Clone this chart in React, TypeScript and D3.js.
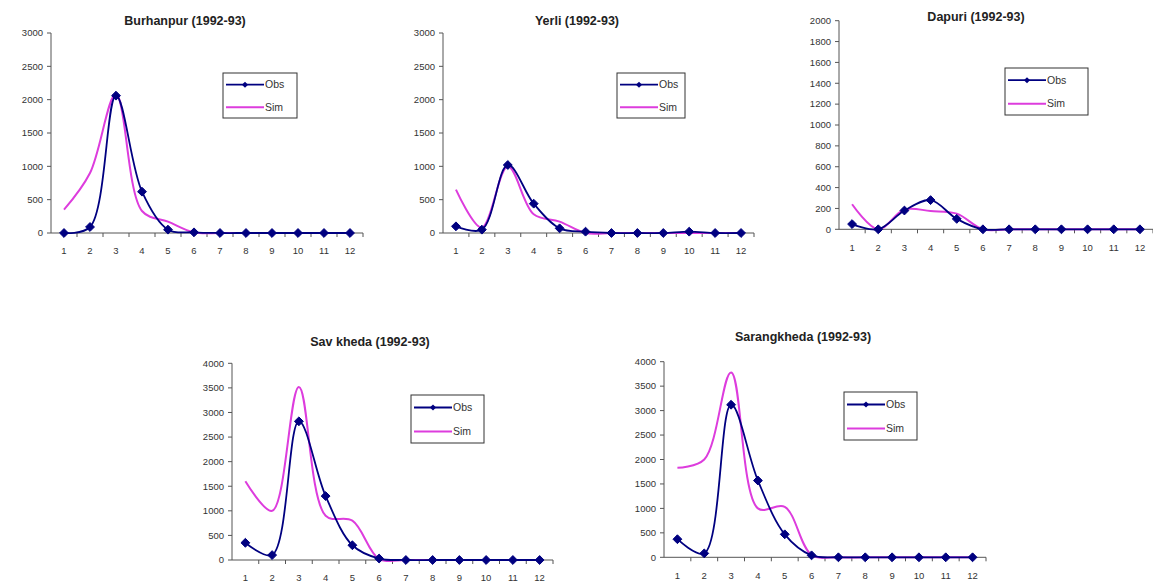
import React, { useEffect, useRef } from 'react';
import * as d3 from 'd3';

const months = ['1', '2', '3', '4', '5', '6', '7', '8', '9', '10', '11', '12'];
const seriesNames = ['Obs', 'Sim'];

const burhanpurObs = [0, 90, 2060, 620, 50, 10, 0, 0, 0, 0, 0, 0];
const burhanpurSim = [350, 900, 2080, 330, 170, 10, 0, 0, 0, 0, 0, 0];
const yerliObs = [100, 50, 1020, 440, 70, 20, 0, 0, 0, 20, 0, 0];
const yerliSim = [650, 80, 1000, 280, 170, 0, 0, 0, 0, 0, 0, 0];
const dapuriObs = [50, 0, 180, 280, 100, 0, 0, 0, 0, 0, 0, 0];
const dapuriSim = [240, 0, 190, 175, 150, 0, 0, 0, 0, 0, 0, 0];
const savkhedaObs = [350, 100, 2820, 1300, 300, 30, 0, 0, 0, 0, 0, 0];
const savkhedaSim = [1600, 1000, 3520, 900, 800, 20, 0, 0, 0, 0, 0, 0];
const sarangkhedaObs = [370, 80, 3120, 1570, 470, 40, 0, 0, 0, 0, 0, 0];
const sarangkhedaSim = [1830, 2000, 3780, 1000, 1030, 50, 0, 0, 0, 0, 0, 0];

const titles = ['Burhanpur (1992-93)', 'Yerli (1992-93)', 'Dapuri (1992-93)', 'Sav kheda (1992-93)', 'Sarangkheda (1992-93)'];

const panels = [
  { title: titles[0], obs: burhanpurObs, sim: burhanpurSim, yMax: 3000, yStep: 500, x0: 51, x1: 363, yTop: 33, yBot: 233, tx: 185, ty: 21, lx: 223, ly: 73, lw: 74, lh: 45 },
  { title: titles[1], obs: yerliObs, sim: yerliSim, yMax: 3000, yStep: 500, x0: 443, x1: 754, yTop: 33, yBot: 233, tx: 577, ty: 21, lx: 617, ly: 73, lw: 68, lh: 45 },
  { title: titles[2], obs: dapuriObs, sim: dapuriSim, yMax: 2000, yStep: 200, x0: 839, x1: 1153, yTop: 20.7, yBot: 229.3, tx: 976, ty: 17, lx: 1005, ly: 68, lw: 83, lh: 47 },
  { title: titles[3], obs: savkhedaObs, sim: savkhedaSim, yMax: 4000, yStep: 500, x0: 232, x1: 553, yTop: 363.3, yBot: 560, tx: 370, ty: 342, lx: 411, ly: 395, lw: 73, lh: 48 },
  { title: titles[4], obs: sarangkhedaObs, sim: sarangkhedaSim, yMax: 4000, yStep: 500, x0: 664, x1: 986, yTop: 361.7, yBot: 557.3, tx: 803, ty: 337, lx: 844, ly: 392, lw: 73, lh: 48 },
];

const OBS_COLOR = '#000080';
const SIM_COLOR = '#dd3cdd';
const AXIS_COLOR = '#555';
const TEXT_COLOR = '#333';
const FONT = 'Liberation Sans, Arial, sans-serif';

export default function App() {
  const ref = useRef<SVGSVGElement | null>(null);

  useEffect(() => {
    const svg = d3.select(ref.current);
    svg.selectAll('*').remove();
    svg.append('rect').attr('width', 1153).attr('height', 588).attr('fill', '#ffffff');

    const diamond = d3.symbol().type(d3.symbolDiamond2).size(50);

    panels.forEach((p) => {
      const g = svg.append('g');
      const x = d3.scaleBand<string>().domain(months).range([p.x0, p.x1]).padding(0);
      const cx = (m: string) => (x(m) as number) + x.bandwidth() / 2;
      const y = d3.scaleLinear().domain([0, p.yMax]).range([p.yBot, p.yTop]);

      // title
      g.append('text')
        .attr('x', p.tx).attr('y', p.ty).attr('dy', '0.35em')
        .attr('text-anchor', 'middle')
        .attr('font-family', FONT).attr('font-size', 12.5).attr('font-weight', 'bold')
        .attr('fill', '#222')
        .text(p.title);

      // y axis
      g.append('line').attr('x1', p.x0).attr('x2', p.x0).attr('y1', p.yTop).attr('y2', p.yBot)
        .attr('stroke', AXIS_COLOR).attr('stroke-width', 1);
      const yt = d3.range(0, p.yMax + 1, p.yStep);
      yt.forEach((v) => {
        g.append('line').attr('x1', p.x0 - 4).attr('x2', p.x0).attr('y1', y(v)).attr('y2', y(v))
          .attr('stroke', AXIS_COLOR);
        g.append('text').attr('x', p.x0 - 8).attr('y', y(v)).attr('dy', '0.35em')
          .attr('text-anchor', 'end').attr('font-family', FONT).attr('font-size', 9.5).attr('fill', TEXT_COLOR)
          .text(String(v));
      });

      // x axis
      g.append('line').attr('x1', p.x0).attr('x2', p.x1).attr('y1', p.yBot).attr('y2', p.yBot)
        .attr('stroke', AXIS_COLOR).attr('stroke-width', 1);
      months.forEach((m) => {
        const bx = (x(m) as number) + x.bandwidth();
        g.append('line').attr('x1', bx).attr('x2', bx).attr('y1', p.yBot).attr('y2', p.yBot + 4)
          .attr('stroke', AXIS_COLOR);
        g.append('text').attr('x', cx(m)).attr('y', p.yBot + 18).attr('dy', '0.35em')
          .attr('text-anchor', 'middle').attr('font-family', FONT).attr('font-size', 9.5).attr('fill', TEXT_COLOR)
          .text(m);
      });

      const line = d3.line<number>()
        .x((_, i) => cx(months[i]))
        .y((d) => y(d))
        .curve(d3.curveCatmullRom.alpha(0.5));

      g.append('path').attr('d', line(p.sim) as string).attr('fill', 'none')
        .attr('stroke', SIM_COLOR).attr('stroke-width', 2);
      g.append('path').attr('d', line(p.obs) as string).attr('fill', 'none')
        .attr('stroke', OBS_COLOR).attr('stroke-width', 1.8);
      p.obs.forEach((v, i) => {
        g.append('path').attr('d', diamond() as string)
          .attr('transform', `translate(${cx(months[i])},${y(v)})`)
          .attr('fill', OBS_COLOR).attr('stroke', OBS_COLOR).attr('stroke-width', 1);
      });

      // legend
      g.append('rect').attr('x', p.lx).attr('y', p.ly).attr('width', p.lw).attr('height', p.lh)
        .attr('fill', '#fff').attr('stroke', '#333').attr('stroke-width', 1);
      const rows = [p.ly + p.lh * 0.26, p.ly + p.lh * 0.76];
      seriesNames.forEach((name, k) => {
        const ry = rows[k];
        const lx1 = p.lx + 3;
        const lx2 = p.lx + 41;
        g.append('line').attr('x1', lx1).attr('x2', lx2).attr('y1', ry).attr('y2', ry)
          .attr('stroke', k === 0 ? OBS_COLOR : SIM_COLOR).attr('stroke-width', k === 0 ? 1.8 : 2);
        if (k === 0) {
          g.append('path').attr('d', d3.symbol().type(d3.symbolDiamond2).size(24)() as string)
            .attr('transform', `translate(${(lx1 + lx2) / 2},${ry})`).attr('fill', OBS_COLOR);
        }
        g.append('text').attr('x', lx2 + 1).attr('y', ry).attr('dy', '0.35em')
          .attr('font-family', FONT).attr('font-size', 10.5).attr('fill', TEXT_COLOR).text(name);
      });
    });
  }, []);

  return (
    <svg ref={ref} width={1153} height={588}
      style={{ position: 'absolute', left: 0, top: 0, display: 'block' }} />
  );
}
